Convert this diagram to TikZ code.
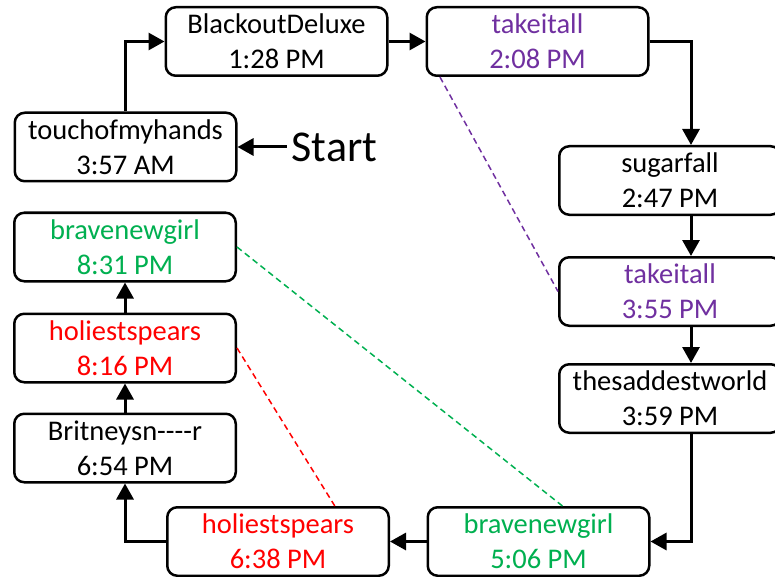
\documentclass[tikz,border=0pt]{standalone}
\usepackage{fontspec}
\setmainfont{Carlito}
\usepackage{tikz}
\usetikzlibrary{arrows.meta,positioning}
\definecolor{tpurple}{HTML}{7030A0}
\definecolor{tred}{HTML}{FF0000}
\definecolor{tgreen}{HTML}{00B050}

\begin{document}
\begin{tikzpicture}[
  x=1pt,y=-1pt,
  font=\fontsize{28.5pt}{35pt}\selectfont,
  post/.style={draw=black,line width=2.5pt,rounded corners=10pt,fill=white,
               minimum width=221.5pt,minimum height=68.5pt,inner sep=0pt,
               align=center},
  flow/.style={line width=3pt,-{Triangle[length=16pt,width=17pt]}},
  link/.style={line width=1.5pt,dash pattern=on 6pt off 4pt},
  node distance=30pt]
\useasboundingbox (0,0) rectangle (775,577);
\node[post] (touch) at (125.5,147) {touchofmyhands\\3:57 AM};
\node[post] (blackout) at (276.5,41.5) {BlackoutDeluxe\\1:28 PM};
\node[post,text=tpurple,right=37pt of blackout] (take1) {takeitall\\2:08 PM};
\node[post] (sugar) at (670,180.5) {sugarfall\\2:47 PM};
\node[post,text=tpurple,below=40pt of sugar] (take2) {takeitall\\3:55 PM};
\node[post,below=36pt of take2] (sad) {thesaddestworld\\3:59 PM};
\node[post,text=tgreen] (brave2) at (538.5,541.5) {bravenewgirl\\5:06 PM};
\node[post,text=tred] (holy2) at (278,541.5) {holiestspears\\6:38 PM};
\node[post,text=tgreen] (brave1) at (125,247) {bravenewgirl\\8:31 PM};
\node[post,text=tred,below=of brave1] (holy1) {holiestspears\\8:16 PM};
\node[post,below=29pt of holy1] (brit) {Britneysn{-}{-}{-}{-}r\\6:54 PM};
\node[font=\fontsize{44pt}{50pt}\selectfont,inner sep=5pt,right=49pt of touch] (start) {Start};

\draw[flow] (start) -- (touch);
\draw[flow] (touch.north) |- (blackout.west);
\draw[flow] (blackout) -- (take1);
\draw[flow] (take1.east) -| ([xshift=21pt]sugar.north);
\draw[flow] ([xshift=21pt]sugar.south) -- ([xshift=21pt]take2.north);
\draw[flow] ([xshift=21pt]take2.south) -- ([xshift=21pt]sad.north);
\draw[flow] ([xshift=21pt]sad.south) |- (brave2.east);
\draw[flow] (brave2) -- (holy2);
\draw[flow] (holy2.west) -| (brit.south);
\draw[flow] (brit) -- (holy1);
\draw[flow] (holy1) -- (brave1);

\draw[link,tpurple] (take1.200) -- (take2.west);
\draw[link,tgreen] (brave1.east) -- (brave2.56);
\draw[link,tred] (holy1.east) -- (holy2.32);
\end{tikzpicture}
\end{document}
